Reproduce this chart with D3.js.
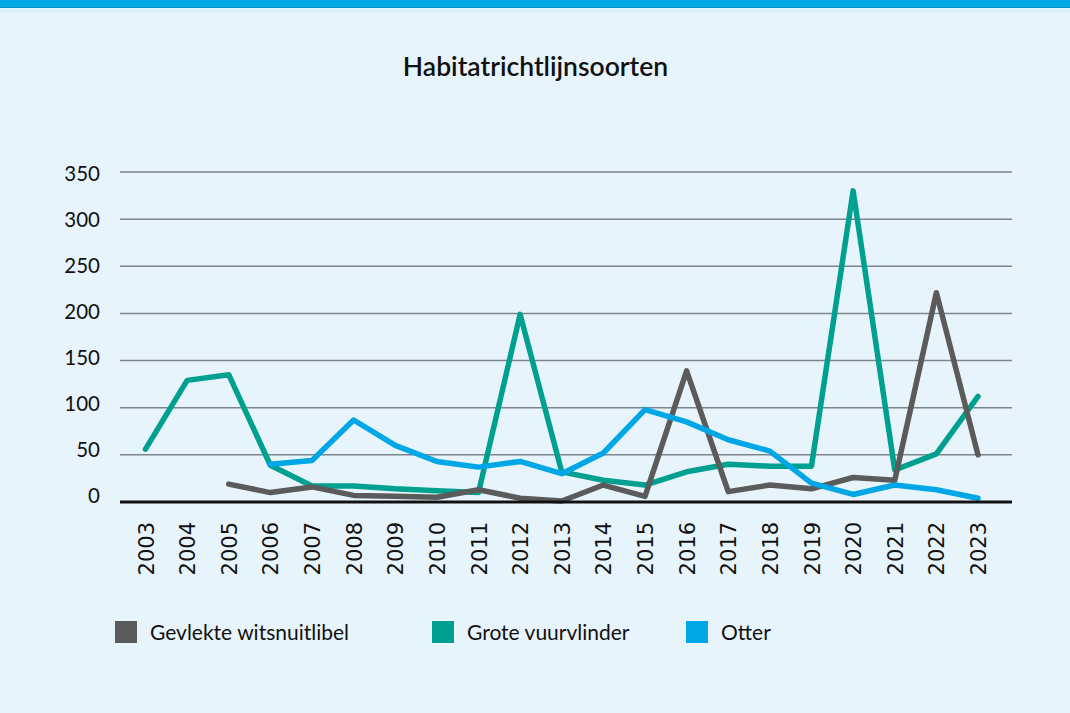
<!DOCTYPE html>
<html>
<head>
<meta charset="utf-8">
<script src="https://cdn.jsdelivr.net/npm/d3@7"></script>
<style>
  html, body { margin: 0; padding: 0; background: #e8f4fb; }
  svg { display: block; }
</style>
</head>
<body>
<div id="grafico"></div>
<script>
// Chart size
const width = 1070;
const height = 713;

// Data
const years = d3.range(2003, 2024).map(String);
const libel = [null, null, 19, 10, 16, 7, 6, 5, 13, 4, 1, 18, 6, 139, 11, 18, 14, 26, 23, 222, 50];
const vlinder = [56, 129, 135, 39, 17, 17, 14, 12, 10, 199, 32, 23, 18, 32, 40, 38, 38, 330, 34, 51, 112];
const otter = [null, null, null, 40, 44, 87, 60, 43, 37, 43, 30, 52, 98, 85, 66, 54, 20, 8, 18, 13, 4];
const yTicks = [0, 50, 100, 150, 200, 250, 300, 350];

const seriesNames = ["Gevlekte witsnuitlibel", "Grote vuurvlinder", "Otter"];
const seriesColors = ["#5b5b5b", "#00a091", "#00a7e6"];
const seriesValues = [libel, vlinder, otter];

const plotLeft = 120;
const plotRight = 1012;

const x = d3.scalePoint().domain(years).range([145.5, 978]);
const y = d3.scaleLinear().domain([0, 350]).range([502, 172]);

const svg = d3
  .select("#grafico")
  .append("svg")
  .attr("width", width)
  .attr("height", height)
  .style("font-family", "Lato, 'Open Sans', sans-serif");

svg.append("rect").attr("width", width).attr("height", height).attr("fill", "#e8f4fb");

// top band
svg.append("rect").attr("width", width).attr("height", 7).attr("fill", "#00a8e6");
svg.append("rect").attr("y", 7).attr("width", width).attr("height", 1).attr("fill", "#0090c8");
svg.append("rect").attr("y", 9).attr("width", width).attr("height", 3).attr("fill", "#d6f1fb");

// title
svg
  .append("text")
  .attr("x", 535.5)
  .attr("y", 76)
  .attr("text-anchor", "middle")
  .attr("font-size", 26.5)
  .attr("font-weight", 600)
  .attr("fill", "#111")
  .text("Habitatrichtlijnsoorten");

// gridlines + y labels
const gGrid = svg.append("g");
gGrid
  .selectAll("line")
  .data(yTicks.filter((d) => d > 0))
  .join("line")
  .attr("x1", plotLeft)
  .attr("x2", plotRight)
  .attr("y1", (d) => y(d))
  .attr("y2", (d) => y(d))
  .attr("stroke", "#7d858c")
  .attr("stroke-width", 1.5);

// labels sit slightly above their gridlines, more so near the bottom
gGrid
  .selectAll("text")
  .data(yTicks)
  .join("text")
  .attr("x", 100)
  .attr("y", (d) => y(d) + 2 - (350 - d) * 0.022)
  .attr("dy", "0.35em")
  .attr("text-anchor", "end")
  .attr("font-size", 20.5)
  .attr("fill", "#111")
  .text((d) => d);

// x axis labels (rotated)
const xAxis = d3.axisBottom(x).tickSize(0).tickPadding(0);
const gx = svg.append("g").attr("transform", `translate(0,${y(0)})`).call(xAxis);
gx.select(".domain").remove();
gx.selectAll("text")
  .attr("transform", "rotate(-90)")
  .attr("x", -20)
  .attr("y", 0)
  .attr("dy", "0.36em")
  .attr("text-anchor", "end")
  .attr("font-family", "'DejaVu Sans', Verdana, sans-serif")
  .attr("font-size", 21)
  .attr("fill", "#111");

// lines: green first, then gray, then blue on top
const line = d3
  .line()
  .defined((d) => d[1] != null)
  .x((d) => x(d[0]))
  .y((d) => y(d[1]));

const drawOrder = [1, 0, 2];
svg
  .append("g")
  .attr("fill", "none")
  .attr("stroke-width", 5.5)
  .attr("stroke-linejoin", "round")
  .attr("stroke-linecap", "round")
  .selectAll("path")
  .data(drawOrder)
  .join("path")
  .attr("stroke", (i) => seriesColors[i])
  .attr("d", (i) => line(years.map((yr, k) => [yr, seriesValues[i][k]])));

// baseline
svg
  .append("line")
  .attr("x1", plotLeft)
  .attr("x2", plotRight)
  .attr("y1", y(0))
  .attr("y2", y(0))
  .attr("stroke", "#111")
  .attr("stroke-width", 3);

// legend
const legendX = [115, 432, 686];
const legend = svg
  .append("g")
  .selectAll("g")
  .data(seriesNames)
  .join("g")
  .attr("transform", (d, i) => `translate(${legendX[i]},621)`);

legend
  .append("rect")
  .attr("width", 22)
  .attr("height", 22)
  .attr("fill", (d, i) => seriesColors[i]);

legend
  .append("text")
  .attr("x", 35)
  .attr("y", 19)
  .attr("font-size", 21)
  .attr("fill", "#111")
  .text((d) => d);
</script>
</body>
</html>
